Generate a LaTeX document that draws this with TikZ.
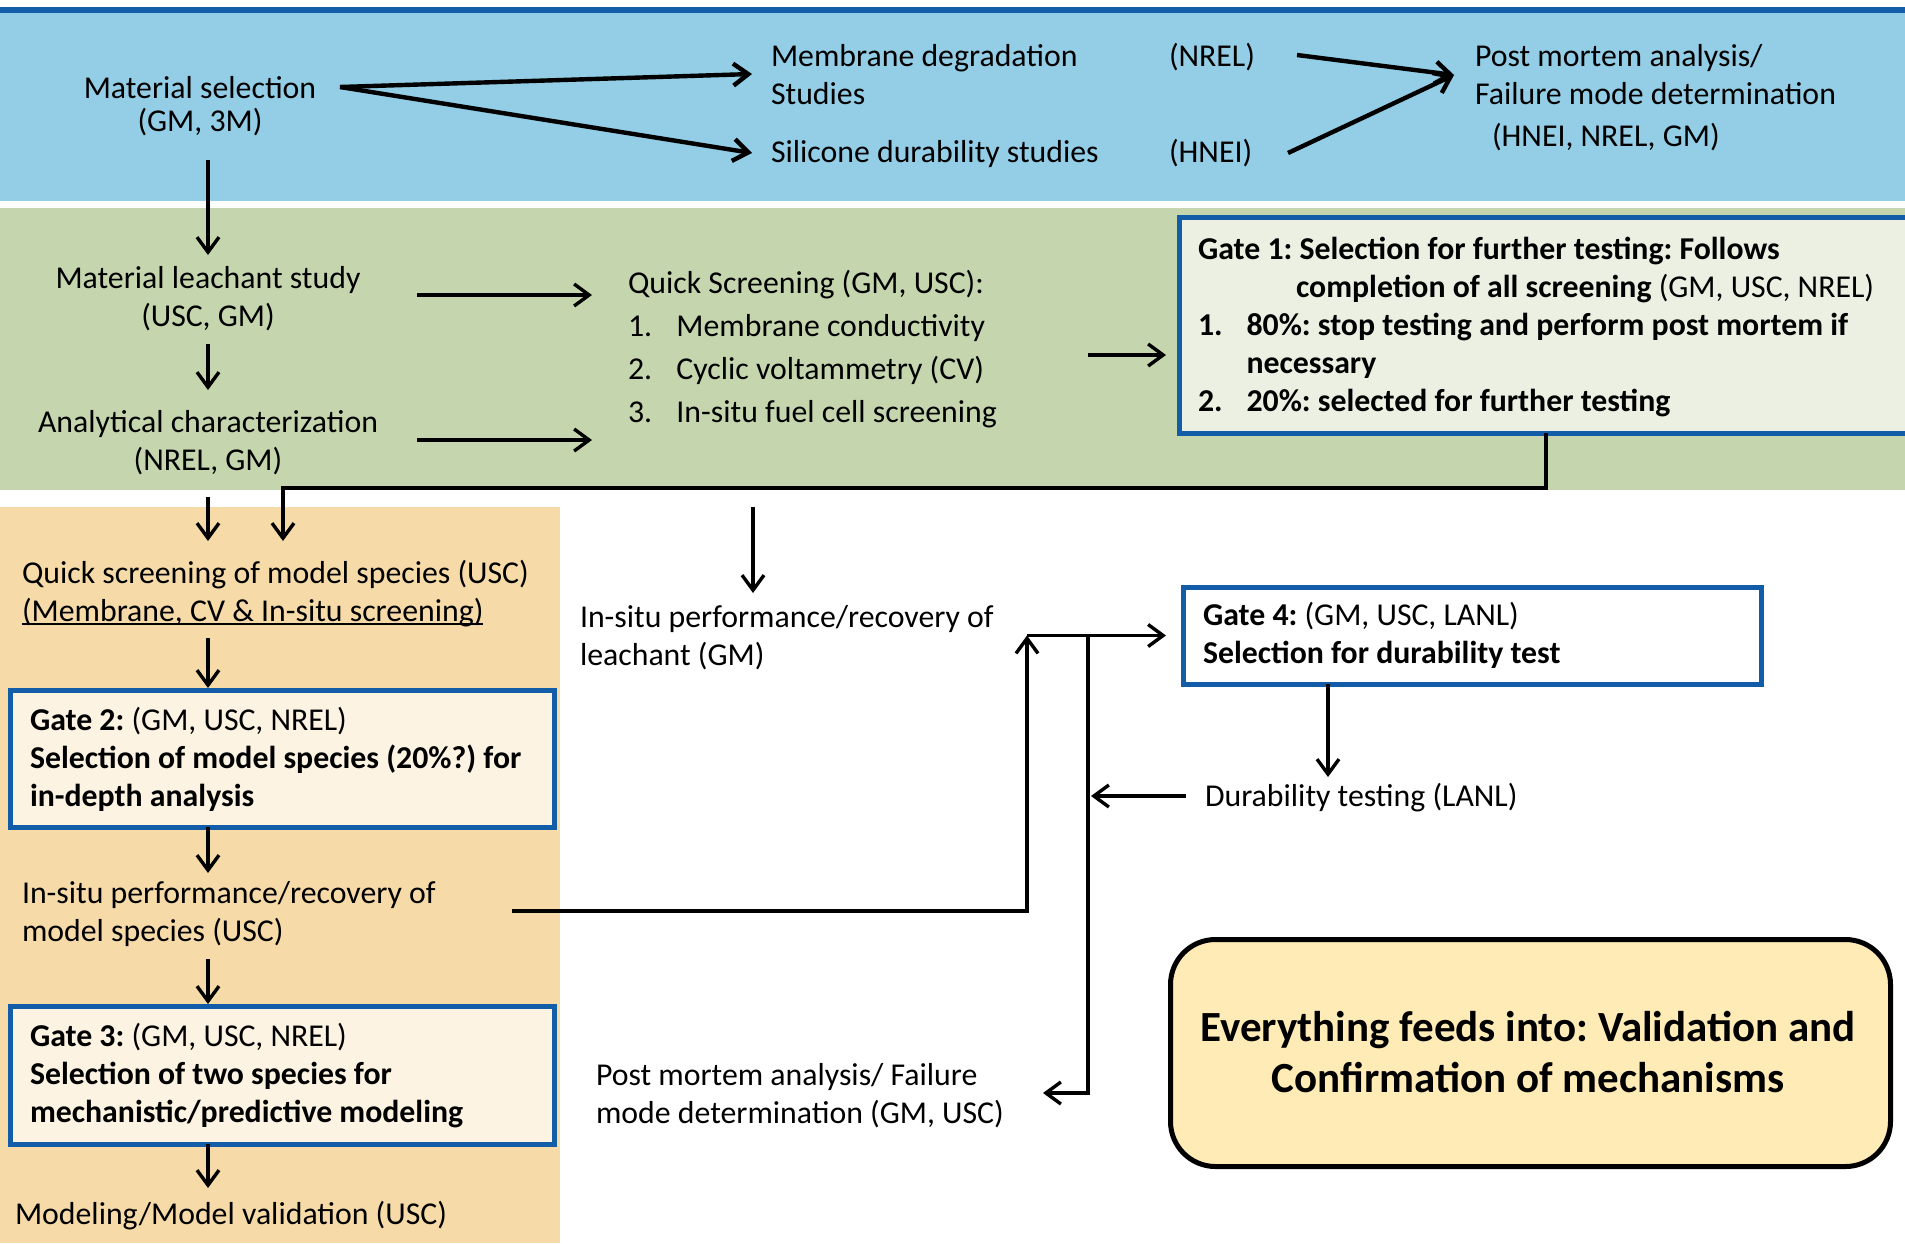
\documentclass[tikz,border=0pt]{standalone}
\usepackage{fontspec}
\setmainfont{Carlito}
\usetikzlibrary{arrows.meta}
\frenchspacing
\definecolor{bandblue}{RGB}{147,205,230}
\definecolor{topline}{RGB}{20,95,170}
\definecolor{bandgreen}{RGB}{197,214,174}
\definecolor{bandorange}{RGB}{246,218,168}
\definecolor{gateblue}{RGB}{18,92,168}
\definecolor{gatefillg}{RGB}{235,240,227}
\definecolor{gatefillo}{RGB}{252,243,226}
\definecolor{finalfill}{RGB}{255,235,181}
\newcommand\fsN{\fontsize{31.8pt}{38pt}\selectfont}
\newcommand\fsB{\fontsize{43pt}{51pt}\selectfont}
\newcommand\mytl[1]{\begin{tabular}[t]{@{}l@{}}#1\end{tabular}}
\newcommand\mytc[1]{\begin{tabular}[t]{@{}c@{}}#1\end{tabular}}
\newcommand\myul[1]{\setbox0\hbox{#1}\rlap{\rule[-4pt]{\wd0}{2pt}}\box0}
\newcommand\itm[1]{\makebox[48.5pt][l]{#1}}
\begin{document}
\begin{tikzpicture}[x=1pt,y=-1pt,
  txt/.style={inner sep=0pt, outer sep=0pt, font=\fsN, anchor=base west},
  txtc/.style={inner sep=0pt, outer sep=0pt, font=\fsN, anchor=base},
  gatebox/.style={draw=gateblue, line width=5pt, inner sep=0pt, outer sep=0pt, anchor=north west},
  arr/.style={line width=3.4pt, -{Straight Barb[length=15pt,width=22pt]}},
  arrT/.style={line width=4.4pt, -{Straight Barb[length=15pt,width=22pt]}}]
\useasboundingbox (0,0) rectangle (1905,1243);
% bands
\fill[bandblue] (0,12) rectangle (1905,201);
\draw[topline, line width=6pt] (0,10) -- (1905,10);
\fill[bandgreen] (0,208) rectangle (1905,490);
\fill[bandorange] (0,507) rectangle (560,1243);

% blue band texts
\node[txtc] (matsel) at (200,98) {\mytc{Material selection\\[-5pt](GM, 3M)}};
\node[txt] (memdeg) at (771,66) {\mytl{Membrane degradation\\Studies}};
\node[txt] (silic) at (771,162) {Silicone durability studies};
\node[txt] (nrel) at (1169,66) {(NREL)};
\node[txt] (hnei) at (1169,162) {(HNEI)};
\node[txt] (postm) at (1475,66) {\mytl{Post mortem analysis/\\Failure mode determination\\[4pt]\hspace*{17pt}(HNEI, NREL, GM)}};

% green band texts
\node[txtc] (leach) at (208,288) {\mytc{Material leachant study\\(USC, GM)}};
\node[txtc] (anal) at (208,432) {\mytc{Analytical characterization\\(NREL, GM)}};
\node[txt] (quick) at (628,293) {\mytl{Quick Screening (GM, USC):\\[5pt]\itm{1.}Membrane conductivity\\[5pt]\itm{2.}Cyclic voltammetry (CV)\\[5pt]\itm{3.}In-situ fuel cell screening}};
\node[gatebox, fill=gatefillg, minimum width=741pt, minimum height=216pt] (g1box) at (1179,217) {};
\node[txt] (g1txt) at (1198,259) {\mytl{\textbf{Gate 1: Selection for further testing: Follows}\\\hspace*{98pt}\textbf{completion of all screening} (GM, USC, NREL)\\\itm{\textbf{1.}}\textbf{80\%: stop testing and perform post mortem if}\\\hspace*{48.5pt}\textbf{necessary}\\\itm{\textbf{2.}}\textbf{20\%: selected for further testing}}};

% orange band texts
\node[txt] (qmodel) at (22,583) {\mytl{Quick screening of model species (USC)\\\myul{(Membrane, CV \& In-situ screening)}}};
\node[gatebox, fill=gatefillo, minimum width=544pt, minimum height=137pt] (g2box) at (10,690) {};
\node[txt] (g2txt) at (30,730) {\mytl{\textbf{Gate 2:} (GM, USC, NREL)\\\textbf{Selection of model species (20\%?) for}\\\textbf{in-depth analysis}}};
\node[txt] (insm) at (22,903) {\mytl{In-situ performance/recovery of\\model species (USC)}};
\node[gatebox, fill=gatefillo, minimum width=544pt, minimum height=138pt] (g3box) at (10,1006) {};
\node[txt] (g3txt) at (30,1046) {\mytl{\textbf{Gate 3:} (GM, USC, NREL)\\\textbf{Selection of two species for}\\\textbf{mechanistic/predictive modeling}}};
\node[txt] (modl) at (15,1224) {Modeling/Model validation (USC)};

% middle and right
\node[txt] (insl) at (580,627) {\mytl{In-situ performance/recovery of\\leachant (GM)}};
\node[txt] (postb) at (596,1085) {\mytl{Post mortem analysis/ Failure\\mode determination (GM, USC)}};
\node[gatebox, fill=white, minimum width=578pt, minimum height=97pt] (g4box) at (1183,587) {};
\node[txt] (g4txt) at (1203,625) {\mytl{\textbf{Gate 4:} (GM, USC, LANL)\\\textbf{Selection for durability test}}};
\node[txt] (dur) at (1205,806) {Durability testing (LANL)};
\node[draw, line width=5pt, rounded corners=45pt, fill=finalfill, minimum width=720pt, minimum height=227pt, anchor=north west, inner sep=0pt] (final) at (1168,937) {};
\node[inner sep=0pt, font={\fsB\bfseries}, anchor=base] (finaltxt) at (1528,1041) {\mytc{Everything feeds into: Validation and\\Confirmation of mechanisms}};

% connectors
\draw[arrT] ([shift={(140,-11)}]matsel.base) -- ([shift={(-19,8)}]memdeg.base west);
\draw[arrT] ([shift={(140,-11)}]matsel.base) -- ([shift={(-19,-9)}]silic.base west);
\draw[arrT] ([shift={(128,-11)}]nrel.base west) -- ([shift={(-21,9)}]postm.base west);
\draw[arrT] ([shift={(119,-9)}]hnei.base west) -- ([shift={(-21,9)}]postm.base west);
\draw[arr] ([shift={(8,62)}]matsel.base) -- ([shift={(0,-33)}]leach.base);
\draw[arr] ([shift={(0,56)}]leach.base) -- ([shift={(0,-42)}]anal.base);
\draw[arr] ([shift={(209,7)}]leach.base) -- ([shift={(-36,2)}]quick.base west);
\draw[arr] ([shift={(209,8)}]anal.base) -- ([shift={(-36,147)}]quick.base west);
\draw[arr] ([shift={(460,62)}]quick.base west) -- ([shift={(-13,30)}]g1box.west);
\draw[arr] ([xshift=367pt]g1box.south west) -- ++(0,55) -| ([shift={(261,-42)}]qmodel.base west);
\draw[arr] ([shift={(0,65)}]anal.base) -- ([shift={(186,-42)}]qmodel.base west);
\draw[arr] ([shift={(186,55)}]qmodel.base west) -- ([shift={(198,-2)}]g2box.north west);
\draw[arr] ([shift={(198,0)}]g2box.south west) -- ([shift={(186,-30)}]insm.base west);
\draw[arr] ([shift={(186,56)}]insm.base west) -- ([shift={(198,-2)}]g3box.north west);
\draw[arr] ([shift={(198,0)}]g3box.south west) -- ([shift={(193,-36)}]modl.base west);
\draw[arr] ([shift={(125,214)}]quick.base west) -- ([shift={(173,-34)}]insl.base west);
\draw[arr] ([shift={(490,8)}]insm.base west) -| ([xshift=-156pt]g4box.west);
\draw[arr] ([xshift=-156pt]g4box.west) -- ([xshift=-17pt]g4box.west);
\draw[arr] ([xshift=-95pt]g4box.west) |- ([shift={(447,8)}]postb.base west);
\draw[arr] ([shift={(-19,-10)}]dur.base west) -- ([shift={(-114,-10)}]dur.base west);
\draw[arr] ([xshift=145pt]g4box.south west) -- ([shift={(123,-29)}]dur.base west);
\end{tikzpicture}
\end{document}
